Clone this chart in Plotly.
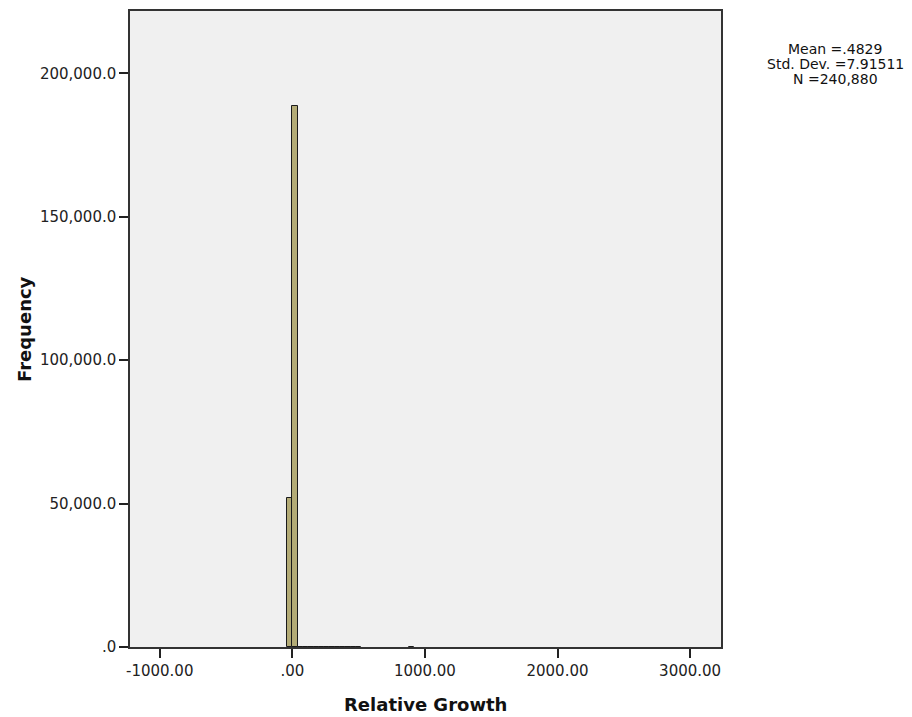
import plotly.graph_objects as go

# Histogram of relative growth: bin centres (bin width 40) and frequencies
bin_width = 40
bin_centers = [-20, 20, 60, 100, 140, 180, 220, 260, 300, 340, 380, 420, 460, 500, 900]
frequencies = [51800, 188800, 122, 50, 30, 20, 15, 10, 8, 6, 5, 4, 3, 3, 4]

x_tick_vals = [-1000, 0, 1000, 2000, 3000]
x_tick_text = ["-1000.00", ".00", "1000.00", "2000.00", "3000.00"]
y_tick_vals = [0, 50000, 100000, 150000, 200000]
y_tick_text = [".0", "50,000.0", "100,000.0", "150,000.0", "200,000.0"]

stats_lines = ["Mean =.4829", "Std. Dev. =7.91511", "N =240,880"]

fig = go.Figure(
    go.Bar(
        x=bin_centers,
        y=frequencies,
        width=bin_width,
        marker=dict(color="#b3ab76", line=dict(color="#1a1a1a", width=1)),
        hoverinfo="x+y",
    )
)

tick_font = dict(family="DejaVu Sans", size=15, color="#222222")
title_font = dict(family="DejaVu Sans", size=18, color="#111111", weight="bold")

fig.update_layout(
    width=912,
    height=717,
    margin=dict(l=130, r=191, t=9, b=70),
    paper_bgcolor="white",
    plot_bgcolor="#f0f0f0",
    showlegend=False,
    bargap=0,
    xaxis=dict(
        range=[-1224, 3233],
        tickvals=x_tick_vals,
        ticktext=x_tick_text,
        ticks="outside",
        ticklen=9,
        tickwidth=1.5,
        tickcolor="#222222",
        showgrid=False,
        zeroline=False,
        showline=True,
        mirror=True,
        linecolor="#333333",
        linewidth=1.5,
        tickfont=tick_font,
    ),
    yaxis=dict(
        range=[0, 221759],
        tickvals=y_tick_vals,
        ticktext=y_tick_text,
        ticks="outside",
        ticklen=9,
        tickwidth=1.5,
        tickcolor="#222222",
        showgrid=False,
        zeroline=False,
        showline=True,
        mirror=True,
        linecolor="#333333",
        linewidth=1.5,
        tickfont=tick_font,
    ),
)

# Axis titles
fig.add_annotation(
    text="Relative Growth", xref="paper", yref="paper",
    x=(425 - 130) / 591, y=-(705 - 647) / 638,
    xanchor="center", yanchor="middle", showarrow=False, font=title_font,
)
fig.add_annotation(
    text="Frequency", xref="paper", yref="paper",
    x=-(130 - 24) / 591, y=(647 - 328) / 638, textangle=-90,
    xanchor="center", yanchor="middle", showarrow=False, font=title_font,
)

# Summary statistics block, right of the plot area
stat_font = dict(family="DejaVu Sans", size=14, color="#111111")
for i, line in enumerate(stats_lines):
    y_px = 47 + i * 15
    fig.add_annotation(
        text=line, xref="paper", yref="paper",
        x=(835 - 130) / 591, y=(647 - y_px) / 638,
        xanchor="center", yanchor="middle", showarrow=False, font=stat_font,
    )

fig.write_html("out.html")
